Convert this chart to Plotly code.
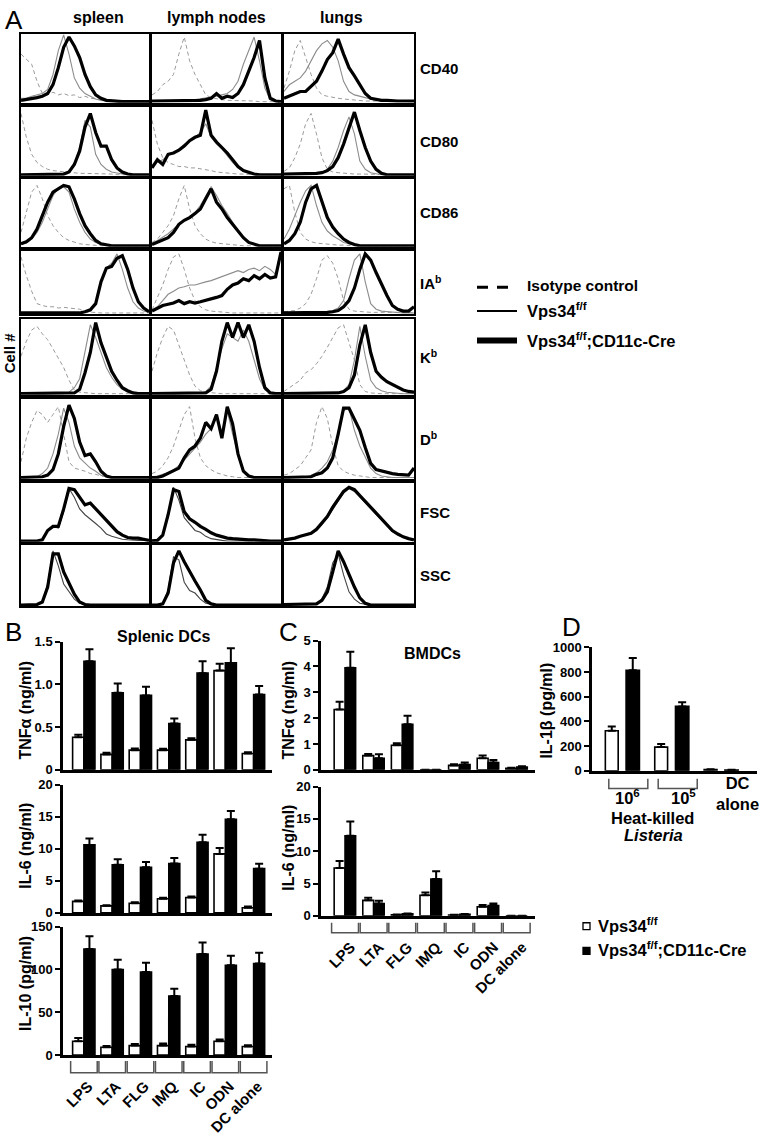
import plotly.graph_objects as go

W, H = 762, 1138
FONT = "Liberation Sans, Arial, Helvetica, sans-serif"


def px(x):
    return x / W


def py(y):
    return 1 - y / H


# ---------------- Panel A : flow histograms (25 bins across each box, % of max) ----------------
col_names = ["spleen", "lymph nodes", "lungs"]
row_names = ["CD40", "CD80", "CD86", "IA<sup>b</sup>", "K<sup>b</sup>", "D<sup>b</sup>", "FSC", "SSC"]

cd40_spl_iso = [70, 62, 55, 30, 12, 10, 14, 10, 12, 9, 10, 6, 8, 5, 4, 3, 2, 2, 2, 1, 1, 1, 1, 1, 1]
cd40_spl_wt = [5, 5, 8, 10, 12, 18, 40, 75, 98, 70, 35, 20, 12, 8, 4, 2, 1, 1, 0, 0, 0, 0, 0, 0, 0]
cd40_spl_ko = [2, 3, 5, 6, 8, 12, 25, 50, 80, 95, 82, 65, 40, 22, 10, 5, 2, 1, 0, 0, 0, 0, 0, 0, 0]
cd40_ln_iso = [10, 15, 25, 30, 40, 70, 95, 60, 40, 25, 10, 6, 4, 3, 2, 2, 1, 1, 1, 1, 0, 0, 0, 0, 0]
cd40_ln_wt = [1, 1, 1, 1, 1, 2, 2, 2, 3, 4, 5, 6, 8, 10, 12, 18, 30, 55, 75, 95, 60, 20, 3, 1, 0]
cd40_ln_ko = [1, 1, 1, 1, 1, 1, 1, 1, 2, 2, 3, 5, 12, 5, 8, 6, 12, 25, 45, 65, 90, 35, 5, 1, 0]
cd40_lu_iso = [20, 45, 75, 90, 65, 40, 20, 10, 8, 6, 5, 4, 3, 2, 2, 1, 1, 1, 1, 1, 0, 0, 0, 0, 0]
cd40_lu_wt = [15, 25, 30, 35, 45, 60, 75, 85, 90, 80, 60, 30, 15, 10, 8, 5, 3, 2, 1, 1, 0, 0, 0, 0, 0]
cd40_lu_ko = [5, 8, 12, 15, 15, 22, 30, 45, 62, 72, 92, 70, 50, 38, 25, 12, 5, 3, 2, 2, 1, 1, 1, 1, 1]

cd80_spl_iso = [90, 55, 30, 18, 12, 8, 6, 5, 5, 4, 3, 2, 2, 2, 1, 1, 1, 1, 0, 0, 0, 0, 0, 0, 0]
cd80_spl_wt = [0, 0, 0, 0, 0, 0, 0, 0, 0, 5, 15, 40, 80, 70, 30, 15, 8, 4, 2, 1, 0, 0, 0, 0, 0]
cd80_spl_ko = [0, 0, 0, 0, 0, 0, 0, 0, 1, 4, 15, 35, 70, 90, 62, 42, 42, 22, 10, 4, 1, 0, 0, 0, 0]
cd80_ln_iso = [80, 45, 25, 18, 15, 12, 12, 10, 10, 9, 8, 6, 4, 3, 2, 2, 1, 1, 0, 0, 0, 0, 0, 0, 0]
cd80_ln_wt = [15, 18, 22, 28, 32, 38, 45, 50, 55, 62, 75, 55, 45, 38, 28, 18, 10, 5, 2, 1, 0, 0, 0, 0, 0]
cd80_ln_ko = [10, 22, 15, 30, 32, 36, 42, 50, 55, 58, 95, 58, 48, 40, 32, 22, 12, 6, 3, 1, 0, 0, 0, 0, 0]
cd80_lu_iso = [5, 10, 25, 45, 75, 90, 60, 25, 8, 4, 3, 2, 2, 1, 1, 1, 0, 0, 0, 0, 0, 0, 0, 0, 0]
cd80_lu_wt = [1, 1, 1, 1, 1, 1, 1, 2, 8, 20, 40, 65, 85, 60, 20, 8, 3, 1, 0, 0, 0, 0, 0, 0, 0]
cd80_lu_ko = [1, 1, 1, 1, 1, 2, 2, 3, 6, 12, 25, 45, 70, 92, 65, 40, 20, 8, 2, 0, 0, 0, 0, 0, 0]

cd86_spl_iso = [20, 50, 80, 90, 70, 45, 30, 20, 12, 8, 5, 3, 2, 1, 1, 0, 0, 0, 0, 0, 0, 0, 0, 0, 0]
cd86_spl_wt = [2, 4, 10, 20, 35, 55, 75, 85, 88, 80, 55, 35, 20, 10, 5, 2, 1, 0, 0, 0, 0, 0, 0, 0, 0]
cd86_spl_ko = [3, 6, 12, 25, 45, 65, 80, 85, 90, 88, 70, 48, 30, 18, 8, 3, 1, 0, 0, 0, 0, 0, 0, 0, 0]
cd86_ln_iso = [5, 10, 20, 30, 45, 70, 90, 55, 30, 18, 10, 6, 4, 3, 2, 1, 1, 0, 0, 0, 0, 0, 0, 0, 0]
cd86_ln_wt = [3, 8, 12, 18, 25, 32, 38, 42, 50, 60, 75, 88, 75, 60, 48, 35, 22, 12, 5, 2, 0, 0, 0, 0, 0]
cd86_ln_ko = [2, 5, 8, 12, 20, 32, 38, 42, 48, 55, 70, 85, 65, 55, 42, 32, 22, 12, 5, 2, 0, 0, 0, 0, 0]
cd86_lu_iso = [85, 90, 50, 20, 10, 6, 4, 3, 2, 2, 1, 1, 0, 0, 0, 0, 0, 0, 0, 0, 0, 0, 0, 0, 0]
cd86_lu_wt = [10, 25, 45, 65, 82, 90, 60, 35, 22, 15, 10, 5, 3, 1, 0, 0, 0, 0, 0, 0, 0, 0, 0, 0, 0]
cd86_lu_ko = [3, 8, 18, 35, 65, 85, 90, 65, 42, 28, 18, 10, 5, 2, 0, 0, 0, 0, 0, 0, 0, 0, 0, 0, 0]

iab_spl_iso = [90, 60, 35, 15, 12, 10, 10, 8, 9, 8, 8, 6, 2, 1, 0, 0, 0, 0, 0, 0, 0, 0, 0, 0, 0]
iab_spl_wt = [0, 0, 0, 0, 0, 0, 0, 0, 0, 0, 0, 0, 1, 3, 15, 50, 72, 80, 95, 70, 40, 18, 8, 3, 1]
iab_spl_ko = [0, 0, 0, 0, 0, 0, 0, 0, 0, 0, 0, 0, 2, 5, 15, 50, 72, 75, 88, 92, 70, 40, 18, 8, 2]
iab_ln_iso = [5, 25, 45, 70, 90, 95, 70, 40, 20, 10, 5, 3, 2, 1, 0, 0, 0, 0, 0, 0, 0, 0, 0, 0, 0]
iab_ln_wt = [5, 10, 20, 30, 35, 40, 42, 45, 45, 48, 50, 52, 55, 58, 62, 65, 68, 65, 70, 72, 68, 75, 70, 62, 100]
iab_ln_ko = [3, 8, 12, 14, 16, 20, 15, 18, 16, 18, 20, 22, 25, 28, 38, 45, 48, 55, 52, 60, 55, 62, 56, 58, 98]
iab_lu_iso = [2, 3, 4, 8, 15, 30, 55, 85, 92, 80, 55, 20, 6, 3, 2, 2, 1, 1, 1, 1, 1, 1, 1, 1, 1]
iab_lu_wt = [0, 0, 0, 0, 0, 0, 0, 1, 2, 4, 8, 20, 55, 85, 95, 50, 15, 6, 3, 2, 1, 0, 0, 0, 0]
iab_lu_ko = [0, 0, 0, 0, 0, 0, 0, 0, 1, 2, 4, 10, 20, 40, 70, 95, 85, 65, 45, 28, 12, 6, 3, 3, 10]

kb_spl_iso = [50, 70, 85, 90, 80, 72, 60, 48, 35, 18, 5, 2, 1, 0, 0, 0, 0, 0, 0, 0, 0, 0, 0, 0, 0]
kb_spl_wt = [0, 0, 0, 0, 0, 0, 0, 0, 0, 2, 8, 20, 55, 92, 75, 55, 35, 22, 12, 6, 2, 0, 0, 0, 0]
kb_spl_ko = [0, 0, 0, 0, 0, 0, 0, 0, 0, 0, 1, 6, 28, 55, 95, 68, 48, 30, 18, 8, 4, 1, 0, 0, 0]
kb_ln_iso = [30, 55, 75, 90, 85, 65, 45, 25, 10, 4, 2, 1, 0, 0, 0, 0, 0, 0, 0, 0, 0, 0, 0, 0, 0]
kb_ln_wt = [0, 0, 0, 0, 0, 0, 0, 0, 0, 1, 3, 10, 35, 60, 80, 75, 70, 85, 70, 45, 20, 5, 1, 0, 0]
kb_ln_ko = [0, 0, 0, 0, 0, 0, 0, 0, 0, 0, 1, 6, 30, 70, 95, 75, 95, 75, 92, 70, 35, 8, 1, 0, 0]
kb_lu_iso = [3, 8, 12, 18, 28, 32, 40, 50, 62, 75, 88, 92, 70, 45, 12, 3, 1, 0, 0, 0, 0, 0, 0, 0, 0]
kb_lu_wt = [0, 0, 0, 0, 0, 0, 0, 0, 0, 0, 1, 4, 12, 45, 90, 50, 18, 8, 4, 2, 1, 0, 0, 0, 0]
kb_lu_ko = [0, 0, 0, 0, 0, 0, 0, 0, 0, 0, 1, 3, 8, 25, 65, 92, 55, 30, 22, 16, 12, 8, 5, 3, 2]

db_spl_iso = [20, 50, 70, 85, 80, 70, 80, 90, 55, 20, 12, 10, 8, 5, 4, 2, 1, 0, 0, 0, 0, 0, 0, 0, 0]
db_spl_wt = [0, 0, 0, 1, 5, 12, 30, 55, 88, 70, 40, 25, 18, 12, 8, 3, 1, 0, 0, 0, 0, 0, 0, 0, 0]
db_spl_ko = [0, 0, 0, 0, 1, 3, 10, 30, 65, 92, 75, 45, 28, 30, 20, 8, 2, 0, 0, 0, 0, 0, 0, 0, 0]
db_ln_iso = [5, 8, 15, 25, 40, 60, 80, 90, 50, 25, 15, 10, 6, 4, 2, 1, 0, 0, 0, 0, 0, 0, 0, 0, 0]
db_ln_wt = [1, 2, 4, 6, 10, 15, 22, 30, 38, 45, 55, 62, 80, 58, 85, 55, 30, 10, 3, 1, 0, 0, 0, 0, 0]
db_ln_ko = [0, 0, 2, 5, 8, 12, 25, 35, 40, 50, 70, 62, 80, 50, 90, 68, 30, 8, 2, 0, 0, 0, 0, 0, 0]
db_lu_iso = [3, 5, 10, 15, 25, 35, 70, 90, 75, 40, 15, 8, 5, 3, 2, 1, 0, 0, 0, 0, 0, 0, 0, 0, 0]
db_lu_wt = [0, 0, 0, 0, 1, 3, 6, 12, 20, 35, 55, 85, 88, 60, 40, 25, 12, 5, 2, 1, 0, 0, 0, 0, 0]
db_lu_ko = [0, 0, 0, 0, 0, 1, 4, 6, 12, 25, 55, 88, 88, 75, 60, 38, 18, 10, 8, 6, 5, 4, 3, 3, 12]

fsc_spl_wt = [0, 0, 0, 0, 2, 18, 25, 22, 50, 90, 75, 55, 45, 38, 30, 22, 12, 8, 5, 3, 2, 1, 1, 1, 0]
fsc_spl_ko = [0, 0, 0, 0, 2, 18, 25, 25, 55, 90, 88, 75, 62, 65, 55, 45, 35, 25, 16, 10, 6, 5, 5, 3, 1]
fsc_ln_wt = [0, 1, 10, 45, 92, 70, 40, 28, 18, 15, 8, 4, 2, 1, 0, 0, 0, 0, 0, 0, 0, 0, 0, 0, 0]
fsc_ln_ko = [0, 1, 10, 45, 88, 85, 50, 38, 32, 25, 20, 14, 10, 7, 5, 4, 3, 3, 2, 2, 1, 1, 0, 0, 0]
fsc_lu_wt = [2, 3, 5, 8, 10, 12, 18, 28, 40, 55, 68, 82, 90, 85, 75, 65, 55, 45, 35, 25, 16, 10, 6, 3, 2]
fsc_lu_ko = [2, 3, 5, 8, 10, 13, 20, 30, 42, 58, 72, 85, 92, 88, 78, 68, 58, 48, 38, 28, 18, 12, 7, 4, 2]

ssc_spl_wt = [0, 0, 0, 1, 5, 35, 90, 65, 35, 22, 10, 3, 1, 0, 0, 0, 0, 0, 0, 0, 0, 0, 0, 0, 0]
ssc_spl_ko = [0, 0, 0, 1, 5, 30, 85, 85, 55, 35, 18, 5, 1, 0, 0, 0, 0, 0, 0, 0, 0, 0, 0, 0, 0]
ssc_ln_wt = [0, 0, 2, 25, 80, 75, 38, 24, 20, 10, 3, 1, 0, 0, 0, 0, 0, 0, 0, 0, 0, 0, 0, 0, 0]
ssc_ln_ko = [0, 0, 2, 20, 70, 90, 72, 55, 40, 25, 8, 2, 0, 0, 0, 0, 0, 0, 0, 0, 0, 0, 0, 0, 0]
ssc_lu_wt = [1, 1, 1, 1, 1, 1, 3, 10, 30, 70, 85, 50, 22, 10, 3, 1, 0, 0, 0, 0, 0, 0, 0, 0, 0]
ssc_lu_ko = [1, 1, 1, 1, 1, 1, 2, 8, 22, 55, 90, 72, 50, 30, 12, 3, 0, 0, 0, 0, 0, 0, 0, 0, 0]

# ---------------- Panels B, C, D : cytokines ----------------
stimuli = ["LPS", "LTA", "FLG", "IMQ", "IC", "ODN", "DC alone"]

b_tnf_wt = [0.38, 0.18, 0.23, 0.23, 0.35, 1.16, 0.19]
b_tnf_wt_err = [0.03, 0.02, 0.02, 0.015, 0.02, 0.08, 0.015]
b_tnf_ko = [1.27, 0.90, 0.87, 0.54, 1.13, 1.25, 0.88]
b_tnf_ko_err = [0.14, 0.11, 0.10, 0.06, 0.14, 0.17, 0.10]

b_il6_wt = [1.8, 1.1, 1.5, 2.2, 2.4, 9.2, 0.8]
b_il6_wt_err = [0.15, 0.1, 0.15, 0.15, 0.15, 0.9, 0.2]
b_il6_ko = [10.6, 7.5, 7.1, 7.7, 11.0, 14.6, 6.9]
b_il6_ko_err = [1.0, 0.85, 0.85, 0.85, 1.2, 1.3, 0.75]

b_il10_wt = [16, 9, 11, 11, 10, 16, 10]
b_il10_wt_err = [4, 1.5, 2, 2.5, 2, 2, 1.5]
b_il10_ko = [124, 100, 97, 69, 118, 105, 107]
b_il10_ko_err = [15, 11.5, 11, 8.5, 13.5, 11, 12.5]

c_tnf_wt = [2.33, 0.55, 0.95, 0, 0.17, 0.45, 0.06]
c_tnf_wt_err = [0.3, 0.06, 0.08, 0, 0.05, 0.1, 0.02]
c_tnf_ko = [3.95, 0.45, 1.76, 0, 0.2, 0.28, 0.11]
c_tnf_ko_err = [0.62, 0.15, 0.33, 0, 0.08, 0.1, 0.03]

c_il6_wt = [7.4, 2.4, 0.15, 3.2, 0.12, 1.4, 0]
c_il6_wt_err = [1.1, 0.4, 0.05, 0.4, 0.05, 0.3, 0]
c_il6_ko = [12.4, 1.9, 0.3, 5.7, 0.25, 1.6, 0]
c_il6_ko_err = [2.2, 0.45, 0.05, 1.2, 0.05, 0.3, 0]

d_groups = ["10<sup>6</sup>", "10<sup>5</sup>", "DC<br>alone"]
d_il1b_wt = [325, 192, 10]
d_il1b_wt_err = [35, 26, 2]
d_il1b_ko = [815, 522, 6]
d_il1b_ko_err = [100, 33, 2]

# ---------------------------------------------------------------------------------------------
fig = go.Figure()
layout = {}
annotations = []
shapes = []
counter = [0]


def new_axes(x0, x1, y0, y1, xopts, yopts):
    counter[0] += 1
    n = counter[0]
    sfx = "" if n == 1 else str(n)
    layout["xaxis" + sfx] = dict(domain=[px(x0), px(x1)], anchor="y" + sfx, **xopts)
    layout["yaxis" + sfx] = dict(domain=[py(y1), py(y0)], anchor="x" + sfx, **yopts)
    return "x" + sfx, "y" + sfx


def ann(x, y, text, size=16, bold=True, xanchor="center", yanchor="middle", angle=0,
        xref="paper", yref="paper", italic=False):
    annotations.append(dict(
        x=x if xref != "paper" else px(x), y=py(y) if yref == "paper" else y,
        xref=xref, yref=yref, text=text, showarrow=False, textangle=angle,
        xanchor=xanchor, yanchor=yanchor,
        font=dict(family=FONT, size=size, color="black",
                  weight="bold" if bold else "normal",
                  style="italic" if italic else "normal")))


hist_data = [
    [(cd40_spl_iso, cd40_spl_wt, cd40_spl_ko), (cd40_ln_iso, cd40_ln_wt, cd40_ln_ko), (cd40_lu_iso, cd40_lu_wt, cd40_lu_ko)],
    [(cd80_spl_iso, cd80_spl_wt, cd80_spl_ko), (cd80_ln_iso, cd80_ln_wt, cd80_ln_ko), (cd80_lu_iso, cd80_lu_wt, cd80_lu_ko)],
    [(cd86_spl_iso, cd86_spl_wt, cd86_spl_ko), (cd86_ln_iso, cd86_ln_wt, cd86_ln_ko), (cd86_lu_iso, cd86_lu_wt, cd86_lu_ko)],
    [(iab_spl_iso, iab_spl_wt, iab_spl_ko), (iab_ln_iso, iab_ln_wt, iab_ln_ko), (iab_lu_iso, iab_lu_wt, iab_lu_ko)],
    [(kb_spl_iso, kb_spl_wt, kb_spl_ko), (kb_ln_iso, kb_ln_wt, kb_ln_ko), (kb_lu_iso, kb_lu_wt, kb_lu_ko)],
    [(db_spl_iso, db_spl_wt, db_spl_ko), (db_ln_iso, db_ln_wt, db_ln_ko), (db_lu_iso, db_lu_wt, db_lu_ko)],
    [(None, fsc_spl_wt, fsc_spl_ko), (None, fsc_ln_wt, fsc_ln_ko), (None, fsc_lu_wt, fsc_lu_ko)],
    [(None, ssc_spl_wt, ssc_spl_ko), (None, ssc_ln_wt, ssc_ln_ko), (None, ssc_lu_wt, ssc_lu_ko)],
]

cols_px = [(21, 149), (152, 281), (284, 414)]
rows_px = [(27, 97), (101, 171), (174, 243), (247, 311), (316, 393), (397, 478), (482, 542), (545, 607)]

box_axis = dict(showline=True, mirror=True, linecolor="black", linewidth=1.6,
                showticklabels=False, ticks="", showgrid=False, zeroline=False)

for r, row in enumerate(hist_data):
    y0, y1 = rows_px[r]
    wt_color = "#8c8c8c" if r < 6 else "#444444"
    for c, (iso, wt, ko) in enumerate(row):
        x0, x1 = cols_px[c]
        xr, yr = new_axes(x0, x1, y0, y1,
                          dict(range=[0, len(wt) - 1], **box_axis),
                          dict(range=[-1.5, 100], **box_axis))
        bins = list(range(len(wt)))
        if iso is not None:
            fig.add_trace(go.Scatter(x=bins, y=iso, mode="lines", xaxis=xr, yaxis=yr,
                                     line=dict(color="#9a9a9a", width=1.0, dash="4px,3px"),
                                     showlegend=False, hoverinfo="skip"))
        fig.add_trace(go.Scatter(x=bins, y=wt, mode="lines", xaxis=xr, yaxis=yr,
                                 line=dict(color=wt_color, width=1.1),
                                 showlegend=False, hoverinfo="skip"))
        fig.add_trace(go.Scatter(x=bins, y=ko, mode="lines", xaxis=xr, yaxis=yr,
                                 line=dict(color="black", width=3.2),
                                 showlegend=False, hoverinfo="skip"))
    ann(418, (y0 + y1) / 2, row_names[r], size=15, xanchor="left")

col_centers = [98, 217, 341]
for c, name in enumerate(col_names):
    ann(col_centers[c], 11, name, size=16)

ann(3, 13, "A", size=26, bold=False, xanchor="left")
ann(9, 351, "Cell #", size=15, angle=-90)

# Panel A legend
shapes.append(dict(type="line", xref="paper", yref="paper", x0=px(477), x1=px(513), y0=py(284), y1=py(284),
                   line=dict(color="black", width=3, dash="11px,9px")))
shapes.append(dict(type="line", xref="paper", yref="paper", x0=px(477), x1=px(517), y0=py(308), y1=py(308),
                   line=dict(color="black", width=2)))
shapes.append(dict(type="line", xref="paper", yref="paper", x0=px(477), x1=px(517), y0=py(338), y1=py(338),
                   line=dict(color="black", width=6)))
ann(525, 282, "Isotype control", size=15.5, xanchor="left")
ann(525, 307, "Vps34<sup>f/f</sup>", size=16.5, xanchor="left")
ann(525, 337, "Vps34<sup>f/f</sup>;CD11c-Cre", size=16.5, xanchor="left")

# ---------------- bar panels ----------------
tickfont = dict(family=FONT, size=13, color="black", weight="bold")
catfont = dict(family=FONT, size=15, color="black", weight="bold")


def bar_panel(x0, x1, y0, y1, xrange, yrange, tickvals, ticktext, wt, wt_err, ko, ko_err,
              w_off, w_w, k_off, k_w, cats=None, standoff=0, shift=0.0):
    xopts = dict(range=xrange, showline=True, linecolor="black", linewidth=2.5, ticks="",
                 showticklabels=False, showgrid=False, zeroline=False)
    if cats is not None:
        xopts.update(showticklabels=True, tickmode="array",
                     tickvals=[i + shift for i in range(len(cats))], ticktext=cats,
                     tickangle=-45, tickfont=catfont, ticklabelstandoff=standoff)
    xr, yr = new_axes(
        x0, x1, y0, y1, xopts,
        dict(range=yrange, showline=True, linecolor="black", linewidth=2.5, ticks="outside",
             ticklen=5, tickwidth=2, tickcolor="black", tickvals=tickvals, ticktext=ticktext,
             tickfont=tickfont, showgrid=False, zeroline=False))
    pos = list(range(len(wt)))
    fig.add_trace(go.Bar(x=pos, y=wt, width=w_w, offset=w_off, xaxis=xr, yaxis=yr,
                         marker=dict(color="white", line=dict(color="black", width=1.6)),
                         error_y=dict(type="data", array=wt_err, arrayminus=[0] * len(wt),
                                      symmetric=False, color="black", thickness=2, width=4),
                         showlegend=False, hoverinfo="skip"))
    fig.add_trace(go.Bar(x=pos, y=ko, width=k_w, offset=k_off, xaxis=xr, yaxis=yr,
                         marker=dict(color="black", line=dict(color="black", width=1.6)),
                         error_y=dict(type="data", array=ko_err, arrayminus=[0] * len(ko),
                                      symmetric=False, color="black", thickness=2, width=4),
                         showlegend=False, hoverinfo="skip"))
    return xr, yr


def brackets(xr, n, lo, hi, y_top, y_bot):
    for i in range(n):
        a, b = i + lo, i + hi
        shapes.append(dict(type="path", xref=xr, yref="paper",
                           path=f"M {a},{py(y_top)} L {a},{py(y_bot)} L {b},{py(y_bot)} L {b},{py(y_top)}",
                           line=dict(color="#555555", width=1.5)))


# Panel B
bx = [-0.74, 6.65]
bar_panel(63, 272, 643, 773, bx, [0, 1.5], [0, 0.5, 1.0, 1.5], ["0", "0.5", "1.0", "1.5"],
          b_tnf_wt, b_tnf_wt_err, b_tnf_ko, b_tnf_ko_err, -0.4, 0.4, 0.0, 0.39)
bar_panel(63, 272, 788, 918, bx, [0, 20], [0, 5, 10, 15, 20], ["0", "5", "10", "15", "20"],
          b_il6_wt, b_il6_wt_err, b_il6_ko, b_il6_ko_err, -0.4, 0.4, 0.0, 0.39)
xb3, _ = bar_panel(63, 272, 932, 1062, bx, [0, 150], [0, 50, 100, 150], ["0", "50", "100", "150"],
                   b_il10_wt, b_il10_wt_err, b_il10_ko, b_il10_ko_err, -0.4, 0.4, 0.0, 0.39,
                   cats=stimuli, standoff=14, shift=0.15)
brackets(xb3, len(stimuli), -0.47, 0.47, 1068, 1080)
ann(26, 713, "TNFα (ng/ml)", size=16, angle=-90)
ann(26, 850, "IL-6 (ng/ml)", size=16, angle=-90)
ann(26, 990, "IL-10 (pg/ml)", size=16, angle=-90)
ann(163, 638, "Splenic DCs", size=16)
ann(3, 633, "B", size=26, bold=False, xanchor="left")

# Panel C
cx = [-0.84, 6.64]
bar_panel(321, 535, 642, 773, cx, [0, 5], [0, 1, 2, 3, 4, 5], ["0", "1", "2", "3", "4", "5"],
          c_tnf_wt, c_tnf_wt_err, c_tnf_ko, c_tnf_ko_err, -0.38, 0.38, 0.0, 0.37)
xc2, _ = bar_panel(321, 535, 790, 921, cx, [0, 20], [0, 5, 10, 15, 20], ["0", "5", "10", "15", "20"],
                   c_il6_wt, c_il6_wt_err, c_il6_ko, c_il6_ko_err, -0.38, 0.38, 0.0, 0.37,
                   cats=stimuli, standoff=14, shift=0.2)
brackets(xc2, len(stimuli), -0.47, 0.47, 928, 938)
ann(289, 713, "TNFα (ng/ml)", size=16, angle=-90)
ann(289, 852, "IL-6 (ng/ml)", size=16, angle=-90)
ann(432, 655, "BMDCs", size=16)
ann(277, 633, "C", size=26, bold=False, xanchor="left")

# Panel D
xd, _ = bar_panel(592, 757, 649, 774, [-0.61, 2.73], [0, 1000], [0, 200, 400, 600, 800, 1000],
                  ["0", "200", "400", "600", "800", "1000"],
                  d_il1b_wt, d_il1b_wt_err, d_il1b_ko, d_il1b_ko_err, -0.34, 0.26, 0.08, 0.27)
brackets(xd, 2, -0.27, 0.52, 782, 792)
ann(627, 801, d_groups[0], size=16.5)
ann(683, 801, d_groups[1], size=16.5)
ann(737, 797, d_groups[2], size=16.5)
ann(652, 822, "Heat-killed", size=16.5)
ann(653, 839, "Listeria", size=16.5, italic=True)
ann(547, 713, "IL-1β (pg/ml)", size=16, angle=-90)
ann(560, 628, "D", size=26, bold=False, xanchor="left")

# B/C/D legend
shapes.append(dict(type="rect", xref="paper", yref="paper", x0=px(583), x1=px(590), y0=py(928), y1=py(935),
                   line=dict(color="black", width=1.3), fillcolor="white"))
shapes.append(dict(type="rect", xref="paper", yref="paper", x0=px(583), x1=px(590), y0=py(953), y1=py(960),
                   line=dict(color="black", width=1.3), fillcolor="black"))
ann(596, 930, "Vps34<sup>f/f</sup>", size=16.5, xanchor="left")
ann(596, 955, "Vps34<sup>f/f</sup>;CD11c-Cre", size=16.5, xanchor="left")

fig.update_layout(
    width=W, height=H, margin=dict(l=0, r=0, t=0, b=0),
    paper_bgcolor="white", plot_bgcolor="white", showlegend=False,
    annotations=annotations, shapes=shapes, **layout)

fig.write_html("out.html", config={"displayModeBar": False},
               post_script="document.body.style.margin='0';document.body.style.overflow='hidden';")
